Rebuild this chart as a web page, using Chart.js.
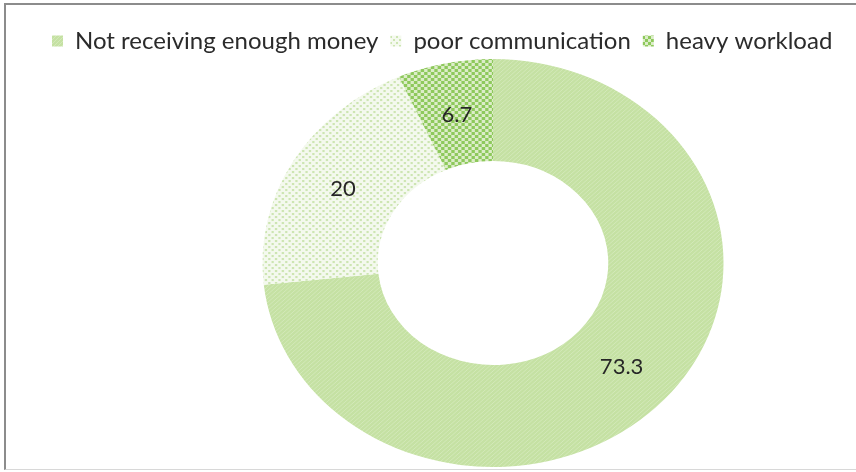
<!DOCTYPE html>
<html lang="en">
<head>
    <meta charset="UTF-8">
    <title>Reasons</title>
    <script src="https://cdn.jsdelivr.net/npm/chart.js@4.4.1/dist/chart.umd.min.js"></script>
    <style>
        body { margin: 0; background: #fff; overflow: hidden; width: 856px; height: 472px; }
        #chart { position: absolute; left: 0; top: 0; }
        #frame { position: absolute; left: 4px; top: 3px; width: 900px; height: 464px;
                 border-left: 2px solid #8c8c8c; border-top: 2px solid #8c8c8c; border-bottom: 1px solid #d8d8d8; }
    </style>
</head>
<body>
    <canvas id="chart" width="946" height="469"></canvas>
    <div id="frame"></div>

    <script>
        var labels = ['Not receiving enough money', 'poor communication', 'heavy workload'];
        var values = [73.3, 20, 6.7];
        var valueLabels = ['73.3', '20', '6.7'];

        var SX = 1.13; // the original doughnut is a bit wider than tall

        var ctx = document.getElementById('chart').getContext('2d');

        // small tiles that mimic the Excel fill patterns
        function makePattern(size, bg, fg, cells) {
            var c = document.createElement('canvas');
            c.width = size; c.height = size;
            var g = c.getContext('2d');
            g.fillStyle = bg;
            g.fillRect(0, 0, size, size);
            g.fillStyle = fg;
            cells.forEach(function (r) { g.fillRect(r[0], r[1], r[2], r[3]); });
            return ctx.createPattern(c, 'repeat');
        }

        var fills = [
            makePattern(4, '#c5e1a3', '#d3e9b9', [[0, 3, 1, 1], [1, 2, 1, 1], [2, 1, 1, 1], [3, 0, 1, 1]]),
            makePattern(6, '#f4f9ee', '#cde5b2', [[0, 0, 2, 2], [3, 3, 2, 2]]),
            makePattern(6, '#dcedc8', '#8ec95c', [[0, 0, 3, 3], [3, 3, 3, 3]])
        ];

        var stretch = {
            id: 'stretch',
            beforeDatasetsDraw: function (chart) {
                var a = chart.chartArea;
                var cx = (a.left + a.right) / 2, cy = (a.top + a.bottom) / 2;
                chart.ctx.save();
                chart.ctx.translate(cx, cy);
                chart.ctx.scale(SX, 1);
                chart.ctx.translate(-cx, -cy);
            },
            afterDatasetsDraw: function (chart) {
                var c = chart.ctx;
                c.restore();
                var a = chart.chartArea;
                var cx = (a.left + a.right) / 2;
                c.save();
                c.fillStyle = '#262626';
                c.font = '22px Lato';
                c.textAlign = 'center';
                c.textBaseline = 'middle';
                chart.getDatasetMeta(0).data.forEach(function (arc, i) {
                    var p = arc.getCenterPoint();
                    c.fillText(valueLabels[i], cx + (p.x - cx) * SX, p.y + 2);
                });
                c.restore();
            }
        };

        var chart = new Chart(ctx, {
            type: 'doughnut',
            data: {
                labels: labels,
                datasets: [{
                    data: values,
                    backgroundColor: fills,
                    borderWidth: 0,
                    clip: false
                }]
            },
            options: {
                responsive: false,
                animation: false,
                cutout: '50%',
                radius: 204,
                layout: { padding: { left: 40, top: 17 } },
                plugins: {
                    legend: {
                        position: 'top',
                        align: 'start',
                        maxHeight: 40,
                        labels: {
                            boxWidth: 11,
                            boxHeight: 11,
                            padding: 12,
                            color: '#2b2b2b',
                            font: { family: 'Lato', size: 24 }
                        }
                    },
                    tooltip: { enabled: false }
                }
            },
            plugins: [stretch]
        });
    </script>
</body>
</html>
